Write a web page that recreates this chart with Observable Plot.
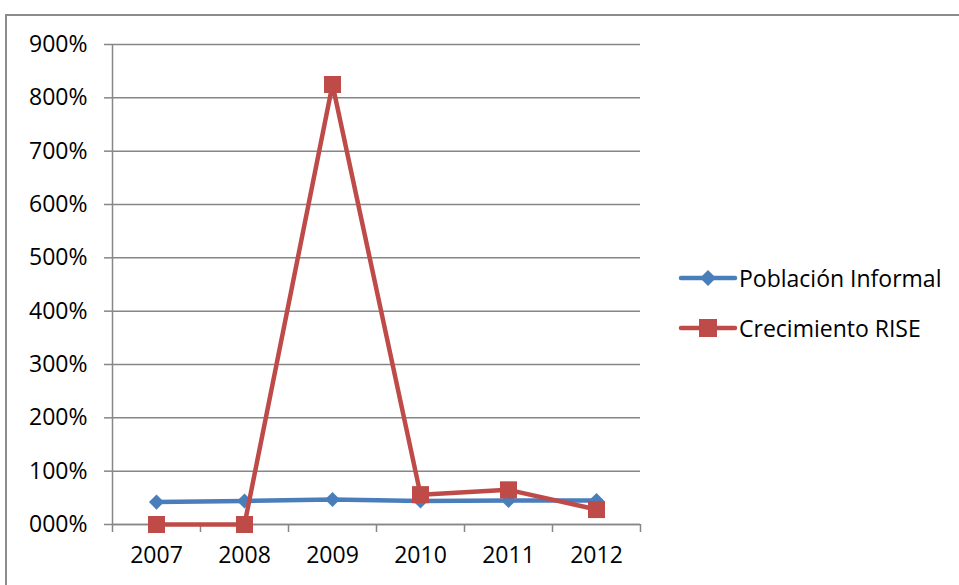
<!DOCTYPE html>
<html>
<head>
<meta charset="utf-8">
<script src="https://cdn.jsdelivr.net/npm/d3@7"></script>
<script src="https://cdn.jsdelivr.net/npm/@observablehq/plot@0.6"></script>
<style>
  html, body { margin: 0; padding: 0; background: #fff; }
  #wrap { position: relative; width: 959px; height: 585px; overflow: hidden; font-family: "Open Sans", sans-serif; }
  #frame { position: absolute; left: 5px; top: 14px; width: 1100px; height: 700px; border: 2px solid #8c8c8c; box-sizing: border-box; }
  #chart { position: absolute; left: 0; top: 0; }
  .leg { position: absolute; left: 678px; height: 30px; display: flex; align-items: center; font-size: 23px; color: #000; white-space: nowrap; }
  .leg svg { margin-right: 1px; }
</style>
</head>
<body>
<div id="wrap">
  <div id="frame"></div>
  <div id="chart"></div>
  <div id="legend"></div>
</div>
<script>
const years = [2007, 2008, 2009, 2010, 2011, 2012];
const poblacionInformal = [42, 44, 47, 44, 45, 45];
const crecimientoRISE = [0, 0, 825, 56, 65, 28];
const seriesNames = ["Población Informal", "Crecimiento RISE"];
const seriesColors = ["#4a7ebb", "#be4b48"];
const yTicks = [0, 100, 200, 300, 400, 500, 600, 700, 800, 900];
const xBounds = [2006.5, 2007.5, 2008.5, 2009.5, 2010.5, 2011.5, 2012.5];

const rowsA = years.map((y, i) => ({year: y, value: poblacionInformal[i]}));
const rowsB = years.map((y, i) => ({year: y, value: crecimientoRISE[i]}));

const fmt = v => String(v).padStart(3, "0") + "%";
const gray = "#868686";

const chart = Plot.plot({
  width: 959,
  height: 585,
  marginLeft: 112,
  marginRight: 319,
  marginTop: 44,
  marginBottom: 61,
  style: {fontFamily: "Open Sans, sans-serif", fontSize: "23px", color: "#000", background: "transparent"},
  x: {domain: [xBounds[0], xBounds[xBounds.length - 1]]},
  y: {domain: [0, 900]},
  marks: [
    Plot.gridY(yTicks, {stroke: gray, strokeOpacity: 1, strokeWidth: 1.5}),
    Plot.ruleX([xBounds[0]], {stroke: gray, strokeWidth: 1.5}),
    Plot.ruleY([0], {stroke: gray, strokeWidth: 1.5}),
    Plot.axisY({ticks: yTicks, tickFormat: fmt, tickSize: 8, tickPadding: 17, stroke: gray, strokeWidth: 1.5, label: null, fontSize: 23}),
    Plot.axisX({ticks: xBounds, tickFormat: () => "", tickSize: 8, stroke: gray, strokeWidth: 1.5, label: null}),
    Plot.axisX({ticks: years, tickFormat: d => String(d), tickSize: 0, tickPadding: 22, label: null, fontSize: 23}),
    Plot.line(rowsA, {x: "year", y: "value", stroke: seriesColors[0], strokeWidth: 4.5}),
    Plot.dot(rowsA, {x: "year", y: "value", symbol: "diamond2", r: 6.8, fill: seriesColors[0], stroke: "none"}),
    Plot.line(rowsB, {x: "year", y: "value", stroke: seriesColors[1], strokeWidth: 4.5}),
    Plot.dot(rowsB, {x: "year", y: "value", symbol: "square", r: 9.6, fill: seriesColors[1], stroke: "none"})
  ]
});
document.getElementById("chart").appendChild(chart);

const legend = document.getElementById("legend");
const legendCenters = [278, 328];
seriesNames.forEach((name, i) => {
  const item = document.createElement("div");
  item.className = "leg";
  item.style.top = (legendCenters[i] - 15) + "px";
  const marker = i === 0
    ? `<polygon points="30,1 38,9 30,17 22,9" fill="${seriesColors[i]}"/>`
    : `<rect x="21" y="0" width="18" height="18" fill="${seriesColors[i]}"/>`;
  item.innerHTML = `<svg width="60" height="18"><line x1="3" y1="9" x2="57" y2="9" stroke="${seriesColors[i]}" stroke-width="4.5" stroke-linecap="round"/>${marker}</svg><span>${name}</span>`;
  legend.appendChild(item);
});
</script>
</body>
</html>
